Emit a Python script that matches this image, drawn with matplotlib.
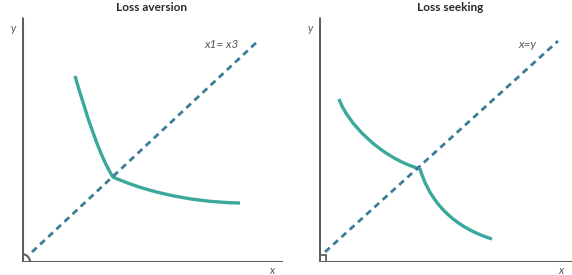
import numpy as np
import matplotlib.pyplot as plt
from matplotlib.patches import Arc, Rectangle, PathPatch
from matplotlib.path import Path

# bezier control points of each curve (two branches meeting at the kink),
# measured from each panel's origin
aversion_x = [53, 65, 78, 91, 115, 160, 218]
aversion_y = [186, 145, 105, 85, 74, 60, 59]
seeking_x = [20, 28, 60, 101, 108, 125, 173]
seeking_y = [163, 140, 105, 93, 70, 38, 23]

diag_left = ([10, 236], [10, 221])
diag_right = ([6, 239], [10, 221])

teal = '#3aa89a'
dash_col = '#3b7d99'
axis_col = '#5e5e5e'

plt.rcParams['font.family'] = ['Lato', 'DejaVu Sans']

fig = plt.figure(figsize=(5.72, 2.75), dpi=100)

def panel(rect, xlim, ylim, cx, cy, diag, title, title_x, label, label_xy, corner):
    ax = fig.add_axes(rect)
    ax.set_xlim(0, xlim)
    ax.set_ylim(0, ylim)
    ax.axis('off')
    ax.plot([0, 0], [0, ylim], color=axis_col, lw=2.2, solid_capstyle='butt')
    ax.plot([0, xlim], [0, 0], color=axis_col, lw=2.2, solid_capstyle='butt')
    ax.plot(diag[0], diag[1], color=dash_col, lw=2.0, dashes=(2.3, 1.7))
    codes = [Path.MOVETO] + [Path.CURVE4] * 6
    path = Path(np.column_stack([cx, cy]), codes)
    ax.add_patch(PathPatch(path, fill=False, ec=teal, lw=2.4,
                           capstyle='butt', joinstyle='round'))
    if corner == 'arc':
        ax.add_patch(Arc((0, 0), 16, 16, theta1=0, theta2=90, color=axis_col, lw=1.5))
    else:
        ax.add_patch(Rectangle((0, 0), 7, 7, fill=False, ec=axis_col, lw=1.3))
    ax.text(title_x, ylim + 4, title, ha='center', va='bottom', fontsize=8.5,
            fontweight='bold', color='#2a2a2a', clip_on=False)
    ax.text(-9, ylim - 11, 'y', fontsize=8, style='italic', color='#555555',
            ha='center', va='center', clip_on=False)
    ax.text(xlim - 11, -8, 'x', fontsize=8, style='italic', color='#555555',
            ha='center', va='center', clip_on=False)
    ax.text(label_xy[0], label_xy[1], label, fontsize=8.5, style='italic',
            color='#555555', ha='center', va='center', clip_on=False)
    return ax

H = 275.0
W = 572.0
panel([22 / W, 13 / H, 261 / W, 245 / H], 261, 245, aversion_x, aversion_y,
      diag_left, 'Loss aversion', 130, 'x1= x3', (200, 217), 'arc')
panel([319 / W, 13 / H, 253 / W, 245 / H], 253, 245, seeking_x, seeking_y,
      diag_right, 'Loss seeking', 131, 'x=y', (208, 218), 'square')

fig.savefig('out.png', dpi=100, facecolor='white')
